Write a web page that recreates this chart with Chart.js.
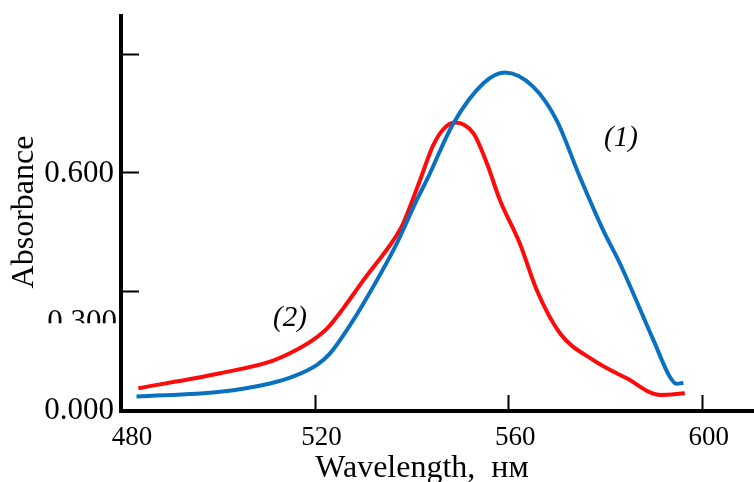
<!DOCTYPE html>
<html>
<head>
<meta charset="utf-8">
<script src="https://cdn.jsdelivr.net/npm/chart.js@4/dist/chart.umd.min.js"></script>
<style>
  html, body { margin: 0; padding: 0; background: #fff; }
  #wrap { width: 754px; height: 482px; }
</style>
</head>
<body>
<div id="wrap"><canvas id="c" width="754" height="482"></canvas></div>
<script>
// Absorption spectra, wavelength (nm) vs absorbance
const wavelength1 = [483.2, 500.5, 510.8, 515.5, 520.5, 523.2, 527.0, 530.1, 537.0, 541.1, 543.2, 548.7, 554.9, 559.3, 565.2, 570.0, 574.8, 579.6, 583.1, 590.0, 593.4, 594.8, 596.2];
const absorbance1 = [0.034, 0.046, 0.067, 0.084, 0.114, 0.143, 0.208, 0.269, 0.421, 0.530, 0.581, 0.724, 0.825, 0.852, 0.816, 0.732, 0.589, 0.455, 0.370, 0.177, 0.084, 0.066, 0.069];

const wavelength2 = [483.6, 500.5, 510.8, 515.5, 519.7, 522.6, 526.0, 530.1, 536.3, 538.3, 541.8, 544.5, 546.6, 549.0, 552.8, 555.6, 558.3, 562.4, 565.9, 570.7, 577.6, 584.5, 591.4, 596.5];
const absorbance2 = [0.055, 0.093, 0.122, 0.147, 0.177, 0.206, 0.258, 0.328, 0.429, 0.471, 0.581, 0.668, 0.709, 0.726, 0.699, 0.623, 0.530, 0.421, 0.303, 0.194, 0.126, 0.080, 0.038, 0.042];

const xTicks = [480, 520, 560, 600];
const xTickLabels = ['480', '520', '560', '600'];
const yTicks = [0, 0.3, 0.6, 0.9];
const yTickLabels = ['0.000', '0.300', '0.600', ''];

const curveLabels = [
  { text: '(1)', x: 583.3, y: 0.686 },
  { text: '(2)', x: 514.9, y: 0.232 }
];

const toPoints = (xs, ys) => xs.map((x, i) => ({ x, y: ys[i] }));

const SERIF = '"Liberation Serif", "Times New Roman", serif';

// Axes, inward ticks, tick labels, titles and curve captions
const axesPlugin = {
  id: 'spectrumAxes',
  afterDatasetsDraw(chart) {
    const ctx = chart.ctx;
    const xs = chart.scales.x, ys = chart.scales.y;
    const area = chart.chartArea;
    const x0 = xs.getPixelForValue(480);
    const y0 = ys.getPixelForValue(0) + 1;
    ctx.save();
    ctx.strokeStyle = '#000';
    ctx.fillStyle = '#000';
    ctx.lineCap = 'butt';

    // axis lines
    ctx.lineWidth = 4;
    ctx.beginPath();
    ctx.moveTo(x0, area.top);
    ctx.lineTo(x0, y0 + 2);
    ctx.moveTo(x0 - 2, y0);
    ctx.lineTo(chart.width, y0);
    ctx.stroke();

    // tick marks
    ctx.lineWidth = 2;
    ctx.beginPath();
    yTicks.forEach(v => {
      if (v === 0) return;
      const py = Math.round(ys.getPixelForValue(v)) + 0.5;
      ctx.moveTo(x0, py);
      ctx.lineTo(x0 + 18, py);
    });
    xTicks.forEach(v => {
      if (v === 480) return;
      const px = Math.round(xs.getPixelForValue(v)) + 0.5;
      ctx.moveTo(px, y0);
      ctx.lineTo(px, y0 - 16);
    });
    ctx.stroke();

    // y tick labels
    ctx.font = '31px ' + SERIF;
    ctx.textAlign = 'right';
    yTicks.forEach((v, i) => {
      const label = yTickLabels[i];
      if (!label) return;
      const py = ys.getPixelForValue(v);
      if (v === 0.3) {
        // this label sits low and is cut off along its lower part
        ctx.save();
        ctx.beginPath();
        ctx.rect(0, 0, x0 - 2, py + 32);
        ctx.clip();
        ctx.textBaseline = 'alphabetic';
        ctx.fillText(label, 117, py + 40);
        ctx.restore();
      } else {
        ctx.textBaseline = 'middle';
        ctx.fillText(label, 114, py + 1);
      }
    });

    // x tick labels
    ctx.font = '27px ' + SERIF;
    ctx.textAlign = 'center';
    ctx.textBaseline = 'alphabetic';
    xTicks.forEach((v, i) => {
      const px = xs.getPixelForValue(v);
      ctx.fillText(xTickLabels[i], px + (i === 0 ? 11 : 7), 445);
    });

    // axis titles
    ctx.font = '32px ' + SERIF;
    ctx.fillText('Wavelength,  нм', 422, 477);
    ctx.save();
    ctx.translate(33, 212);
    ctx.rotate(-Math.PI / 2);
    ctx.fillText('Absorbance', 0, 0);
    ctx.restore();

    // curve captions
    ctx.font = 'italic 29px ' + SERIF;
    ctx.textBaseline = 'middle';
    curveLabels.forEach(l => {
      ctx.fillText(l.text, xs.getPixelForValue(l.x), ys.getPixelForValue(l.y));
    });
    ctx.restore();
  }
};

new Chart(document.getElementById('c'), {
  type: 'line',
  data: {
    datasets: [
      {
        label: '(1)',
        data: toPoints(wavelength1, absorbance1),
        borderColor: '#0a70c0',
        borderWidth: 4,
        pointRadius: 0,
        cubicInterpolationMode: 'monotone',
        fill: false
      },
      {
        label: '(2)',
        data: toPoints(wavelength2, absorbance2),
        borderColor: '#ff0a0a',
        borderWidth: 4,
        pointRadius: 0,
        cubicInterpolationMode: 'monotone',
        fill: false
      }
    ]
  },
  options: {
    responsive: false,
    animation: false,
    devicePixelRatio: 1,
    layout: { padding: { left: 121, top: 14, right: 0, bottom: 72 } },
    plugins: { legend: { display: false }, title: { display: false }, tooltip: { enabled: false } },
    scales: {
      x: { type: 'linear', min: 480, max: 610.8, display: false },
      y: { type: 'linear', min: 0, max: 1.0, display: false }
    }
  },
  plugins: [axesPlugin]
});
</script>
</body>
</html>
